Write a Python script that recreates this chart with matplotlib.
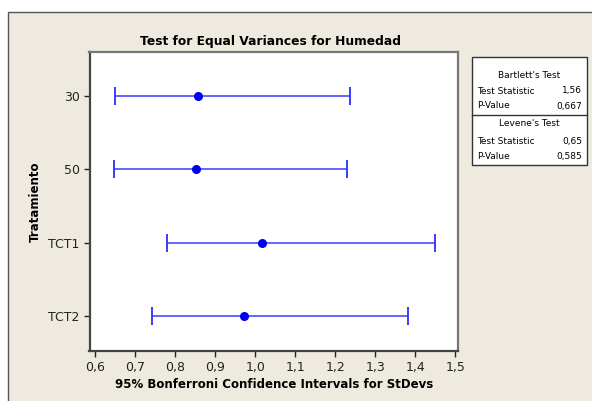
import matplotlib.pyplot as plt
from matplotlib.patches import Rectangle

groups = ["30", "50", "TCT1", "TCT2"]
sd_point = [0.8575, 0.8525, 1.0175, 0.972]
ci_low = [0.650, 0.6475, 0.779, 0.7425]
ci_high = [1.236, 1.2285, 1.450, 1.3825]
x_ticks = [0.6, 0.7, 0.8, 0.9, 1.0, 1.1, 1.2, 1.3, 1.4, 1.5]

bartlett_stat = "1,56"
bartlett_p = "0,667"
levene_stat = "0,65"
levene_p = "0,585"

bg = "#eeeae0"
W, H = 592, 401

fig = plt.figure(figsize=(W / 100, H / 100), dpi=100)
fig.patch.set_facecolor("white")

# outer beige frame (top-left corner visible)
fig.patches.append(Rectangle((8 / W, -0.1), 1.2, 1 - 12 / H + 0.1,
                             transform=fig.transFigure, facecolor=bg,
                             edgecolor="#555555", linewidth=1.0, zorder=-5))

ax = fig.add_axes([89.5 / W, 1 - 351 / H, (458 - 89.5) / W, (351 - 52) / H])
ax.set_zorder(2)
ax.set_facecolor("white")

ypos = list(range(1, len(groups) + 1))
for y, lo, hi, pt in zip(ypos, ci_low, ci_high, sd_point):
    ax.errorbar([pt], [y], xerr=[[pt - lo], [hi - pt]], fmt="none",
                ecolor="#3a3aff", elinewidth=1.1, capsize=6.5, capthick=1.4)
ax.plot(sd_point, ypos, "o", color="#0000ee", markersize=5.5, zorder=3)

ax.set_xlim(0.5855, 1.5065)
ax.set_ylim(4.48, 0.4)
ax.set_yticks(ypos)
ax.set_yticklabels(groups)
ax.set_xticks(x_ticks)
ax.set_xticklabels([f"{v:.1f}".replace(".", ",") for v in x_ticks])
ax.tick_params(direction="out", length=4, width=1, labelsize=9,
               colors="#222222", pad=3)

for s in ax.spines.values():
    s.set_color("#777777")
    s.set_linewidth(1.6)
ax.spines["left"].set_color("#444444")
ax.spines["bottom"].set_color("#444444")

ax.set_xlabel("95% Bonferroni Confidence Intervals for StDevs",
              fontsize=8.5, fontweight="bold", labelpad=3)
ax.set_ylabel("Tratamiento", fontsize=8.5, fontweight="bold", labelpad=5)

fig.text(270 / W, 1 - 41 / H, "Test for Equal Variances for Humedad",
         ha="center", va="center", fontsize=8.8, fontweight="bold")

# test results box
bx0, bx1 = 472 / W, 587 / W
by0, by1 = 1 - 165 / H, 1 - 57 / H
fig.patches.append(Rectangle((bx0, by0), bx1 - bx0, by1 - by0,
                             transform=fig.transFigure, facecolor="white",
                             edgecolor="#333333", linewidth=1.0))
fig.add_artist(plt.Line2D([bx0, bx1], [1 - 114.5 / H] * 2,
                          transform=fig.transFigure, color="#333333",
                          linewidth=1.0))

fs = 6.5
lx, rx = 477 / W, 582 / W
fig.text((bx0 + bx1) / 2, 1 - 75 / H, "Bartlett's Test", ha="center",
         va="center", fontsize=fs)
fig.text(lx, 1 - 91 / H, "Test Statistic", va="center", fontsize=fs)
fig.text(rx, 1 - 91 / H, bartlett_stat, ha="right", va="center", fontsize=fs)
fig.text(lx, 1 - 106 / H, "P-Value", va="center", fontsize=fs)
fig.text(rx, 1 - 106 / H, bartlett_p, ha="right", va="center", fontsize=fs)
fig.text((bx0 + bx1) / 2, 1 - 124 / H, "Levene's Test", ha="center",
         va="center", fontsize=fs)
fig.text(lx, 1 - 142 / H, "Test Statistic", va="center", fontsize=fs)
fig.text(rx, 1 - 142 / H, levene_stat, ha="right", va="center", fontsize=fs)
fig.text(lx, 1 - 157 / H, "P-Value", va="center", fontsize=fs)
fig.text(rx, 1 - 157 / H, levene_p, ha="right", va="center", fontsize=fs)

fig.savefig("out.png", dpi=100, facecolor=fig.get_facecolor())
